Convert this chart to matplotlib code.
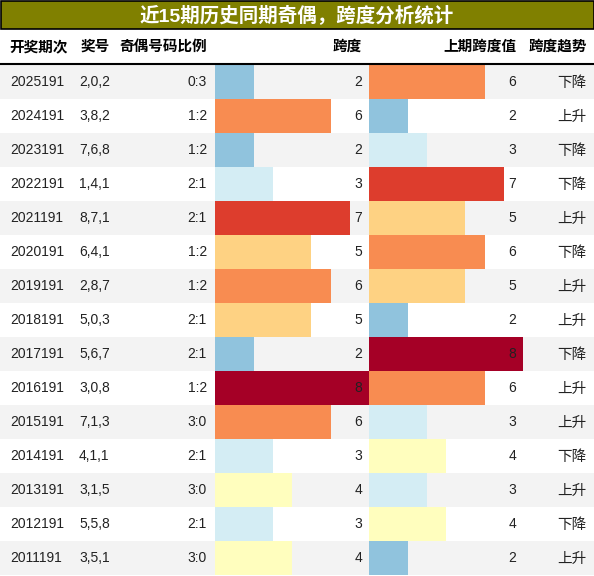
import matplotlib.pyplot as plt
from matplotlib import colormaps
from matplotlib.patches import Rectangle

periods = ['2025191', '2024191', '2023191', '2022191', '2021191', '2020191', '2019191',
           '2018191', '2017191', '2016191', '2015191', '2014191', '2013191', '2012191', '2011191']
numbers = ['2,0,2', '3,8,2', '7,6,8', '1,4,1', '8,7,1', '6,4,1', '2,8,7',
           '5,0,3', '5,6,7', '3,0,8', '7,1,3', '4,1,1', '3,1,5', '5,5,8', '3,5,1']
odd_even = ['0:3', '1:2', '1:2', '2:1', '2:1', '1:2', '1:2',
            '2:1', '2:1', '1:2', '3:0', '2:1', '3:0', '2:1', '3:0']
span = [2, 6, 2, 3, 7, 5, 6, 5, 2, 8, 6, 3, 4, 3, 4]
prev_span = [6, 2, 3, 7, 5, 6, 5, 2, 8, 6, 3, 4, 3, 4, 2]
trend = ['下降', '上升', '下降', '下降', '上升', '下降', '上升',
         '上升', '下降', '上升', '上升', '下降', '上升', '下降', '上升']
headers = ['开奖期次', '奖号', '奇偶号码比例', '跨度', '上期跨度值', '跨度趋势']
title = '近15期历史同期奇偶，跨度分析统计'

W, H = 594, 576
FONT = ['Liberation Sans', 'Noto Sans CJK SC']
cmap = colormaps['RdYlBu_r']
vmax = 8

fig = plt.figure(figsize=(W / 100, H / 100), dpi=100)
ax = fig.add_axes([0, 0, 1, 1])
ax.set_xlim(0, W)
ax.set_ylim(H, 0)
ax.axis('off')

# layout (pixels)
title_h = 28
head_bot = 64
row_h = 34
bar_w = 154
span_x0, prev_x0 = 215, 369

# title bar
ax.add_patch(Rectangle((0.5, 0.5), W - 1, title_h, facecolor='#808000', edgecolor='black', lw=1.2))
ax.text(W / 2, title_h / 2 + 1, title, color='white', fontsize=14, fontweight='bold',
        ha='center', va='center', family=FONT)

# header
hy = (title_h + head_bot) / 2 + 1
hx = [(9, 'left'), (81, 'left'), (207, 'right'), (362, 'right'), (516, 'right'), (587, 'right')]
for (x, ha), h in zip(hx, headers):
    ax.text(x, hy, h, fontsize=10.5, fontweight='bold', ha=ha, va='center', family=FONT)
ax.plot([0, W], [head_bot, head_bot], color='black', lw=1.5)

n = len(periods)
ys = [head_bot + 1 + row_h * (i + 0.5) for i in range(n)]

for i in range(n):
    if i % 2 == 0:
        ax.add_patch(Rectangle((0, ys[i] - row_h / 2), W, row_h, facecolor='#f3f3f3', lw=0, zorder=0))

ax.barh(ys, [v / vmax * bar_w for v in span], height=row_h, left=span_x0,
        color=[cmap(v / vmax) for v in span], zorder=1)
ax.barh(ys, [v / vmax * bar_w for v in prev_span], height=row_h, left=prev_x0,
        color=[cmap(v / vmax) for v in prev_span], zorder=1)

for i, y in enumerate(ys):
    ty = y + 0.5
    kw = dict(fontsize=10, va='center', family=FONT, color='#222222', zorder=3)
    ax.text(10, ty, periods[i], ha='left', **kw)
    ax.text(79, ty, numbers[i], ha='left', **kw)
    ax.text(207, ty, odd_even[i], ha='right', **kw)
    ax.text(362, ty, str(span[i]), ha='right', **kw)
    ax.text(516, ty, str(prev_span[i]), ha='right', **kw)
    ax.text(586, ty, trend[i], ha='right', fontsize=10.5, va='center', family=FONT,
            color='#222222', zorder=3)

fig.savefig('out.png', dpi=100)
